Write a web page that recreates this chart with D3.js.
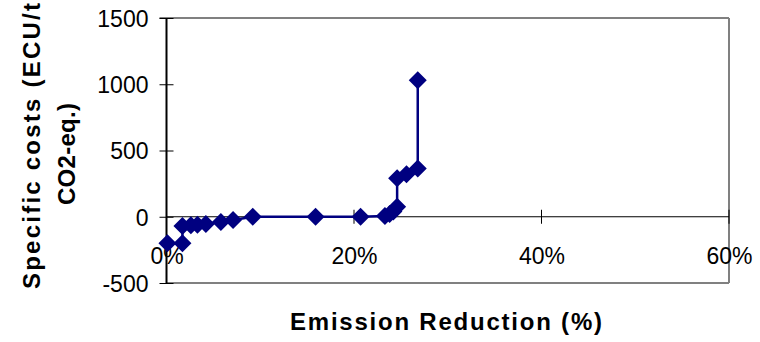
<!DOCTYPE html>
<html>
<head>
<meta charset="utf-8">
<script src="https://cdn.jsdelivr.net/npm/d3@7"></script>
<style>
  html, body { margin: 0; padding: 0; background: #ffffff; }
  svg { display: block; }
  text { font-family: Arial, "Liberation Sans", sans-serif; fill: #000; }
</style>
</head>
<body>
<svg id="chart" width="760" height="342"></svg>
<script>
// Emission reduction (share) and specific cost (ECU/t CO2-eq.) per measure
const reduction = [0.001, 0.017, 0.017, 0.026, 0.033, 0.042, 0.058, 0.071, 0.092,
                   0.159, 0.207, 0.233, 0.238, 0.242, 0.246, 0.246, 0.256, 0.268, 0.268];
const cost      = [-200, -200, -70, -65, -60, -55, -40, -25, 0,
                   0, 0, 5, 20, 40, 75, 290, 320, 365, 1030];
const yTicks = [-500, 0, 500, 1000, 1500];
const xTicks = [0, 0.2, 0.4, 0.6];
const xTitle = "Emission Reduction (%)";
const yTitle = ["Specific costs (ECU/t", "CO2-eq.)"];

const svg = d3.select("#chart");
const x = d3.scaleLinear().domain([0, 0.6]).range([166.5, 729]);
const y = d3.scaleLinear().domain([-500, 1500]).range([283, 18]);
const tickFont = 23;

// plot frame (top, right, bottom)
const frame = svg.append("g").attr("stroke", "#808080").attr("stroke-width", 2).attr("fill", "none");
frame.append("line").attr("x1", x(0) - 7).attr("x2", x(0.6)).attr("y1", y(1500)).attr("y2", y(1500));
frame.append("line").attr("x1", x(0.6)).attr("x2", x(0.6)).attr("y1", y(1500)).attr("y2", y(-500));
frame.append("line").attr("x1", x(0)).attr("x2", x(0.6)).attr("y1", y(-500)).attr("y2", y(-500));

// value axis (plain hyphen for negatives)
const yAxis = svg.append("g").attr("transform", `translate(${x(0)},0)`)
  .call(d3.axisLeft(y).tickValues(yTicks).tickSize(7).tickFormat(d => String(d)));
yAxis.select(".domain").remove();
yAxis.selectAll(".tick line").attr("x2", 7).attr("x1", -7).attr("stroke", "#000");
yAxis.selectAll(".tick text").attr("font-size", tickFont).attr("font-family", "Arial, 'Liberation Sans', sans-serif")
  .attr("dy", "0.36em").attr("x", -18);
svg.append("line").attr("x1", x(0)).attr("x2", x(0)).attr("y1", y(1500)).attr("y2", y(-500))
  .attr("stroke", "#000").attr("stroke-width", 2);

// category axis, crossing at zero cost
const xAxis = svg.append("g").attr("transform", `translate(0,${y(0)})`)
  .call(d3.axisBottom(x).tickValues(xTicks).tickSize(0).tickFormat(d3.format(".0%")));
xAxis.select(".domain").remove();
xAxis.selectAll(".tick line").remove();
xAxis.selectAll(".tick text").attr("font-size", tickFont).attr("font-family", "Arial, 'Liberation Sans', sans-serif")
  .attr("y", 47).attr("dy", 0);
svg.append("line").attr("x1", x(0)).attr("x2", x(0.6)).attr("y1", y(0)).attr("y2", y(0))
  .attr("stroke", "#000").attr("stroke-width", 1);
svg.append("g").selectAll("line").data(xTicks.filter(d => d > 0)).join("line")
  .attr("x1", d => x(d)).attr("x2", d => x(d))
  .attr("y1", y(0) - 7).attr("y2", y(0) + 7)
  .attr("stroke", "#000").attr("stroke-width", 1);

// cost curve
const pts = reduction.map((r, i) => [r, cost[i]]);
svg.append("path").datum(pts)
  .attr("fill", "none").attr("stroke", "#000080").attr("stroke-width", 2.5)
  .attr("d", d3.line().x(d => x(d[0])).y(d => y(d[1])));

const h = 9;
svg.append("g").selectAll("path").data(pts).join("path")
  .attr("transform", d => `translate(${x(d[0])},${y(d[1])})`)
  .attr("d", `M0,${-h}L${h},0L0,${h}L${-h},0Z`)
  .attr("fill", "#000080");

// axis titles
svg.append("text").attr("x", 446).attr("y", 330).attr("text-anchor", "middle")
  .attr("font-size", 24).attr("font-weight", "bold")
  .attr("textLength", 312).attr("lengthAdjust", "spacing").text(xTitle);

svg.append("text").attr("transform", "translate(40,289) rotate(-90)")
  .attr("text-anchor", "start").attr("font-size", 24).attr("font-weight", "bold")
  .attr("textLength", 286).attr("lengthAdjust", "spacing").text(yTitle[0]);
svg.append("text").attr("transform", "translate(75,154) rotate(-90)")
  .attr("text-anchor", "middle").attr("font-size", 24).attr("font-weight", "bold")
  .attr("textLength", 102).attr("lengthAdjust", "spacing").text(yTitle[1]);
</script>
</body>
</html>
